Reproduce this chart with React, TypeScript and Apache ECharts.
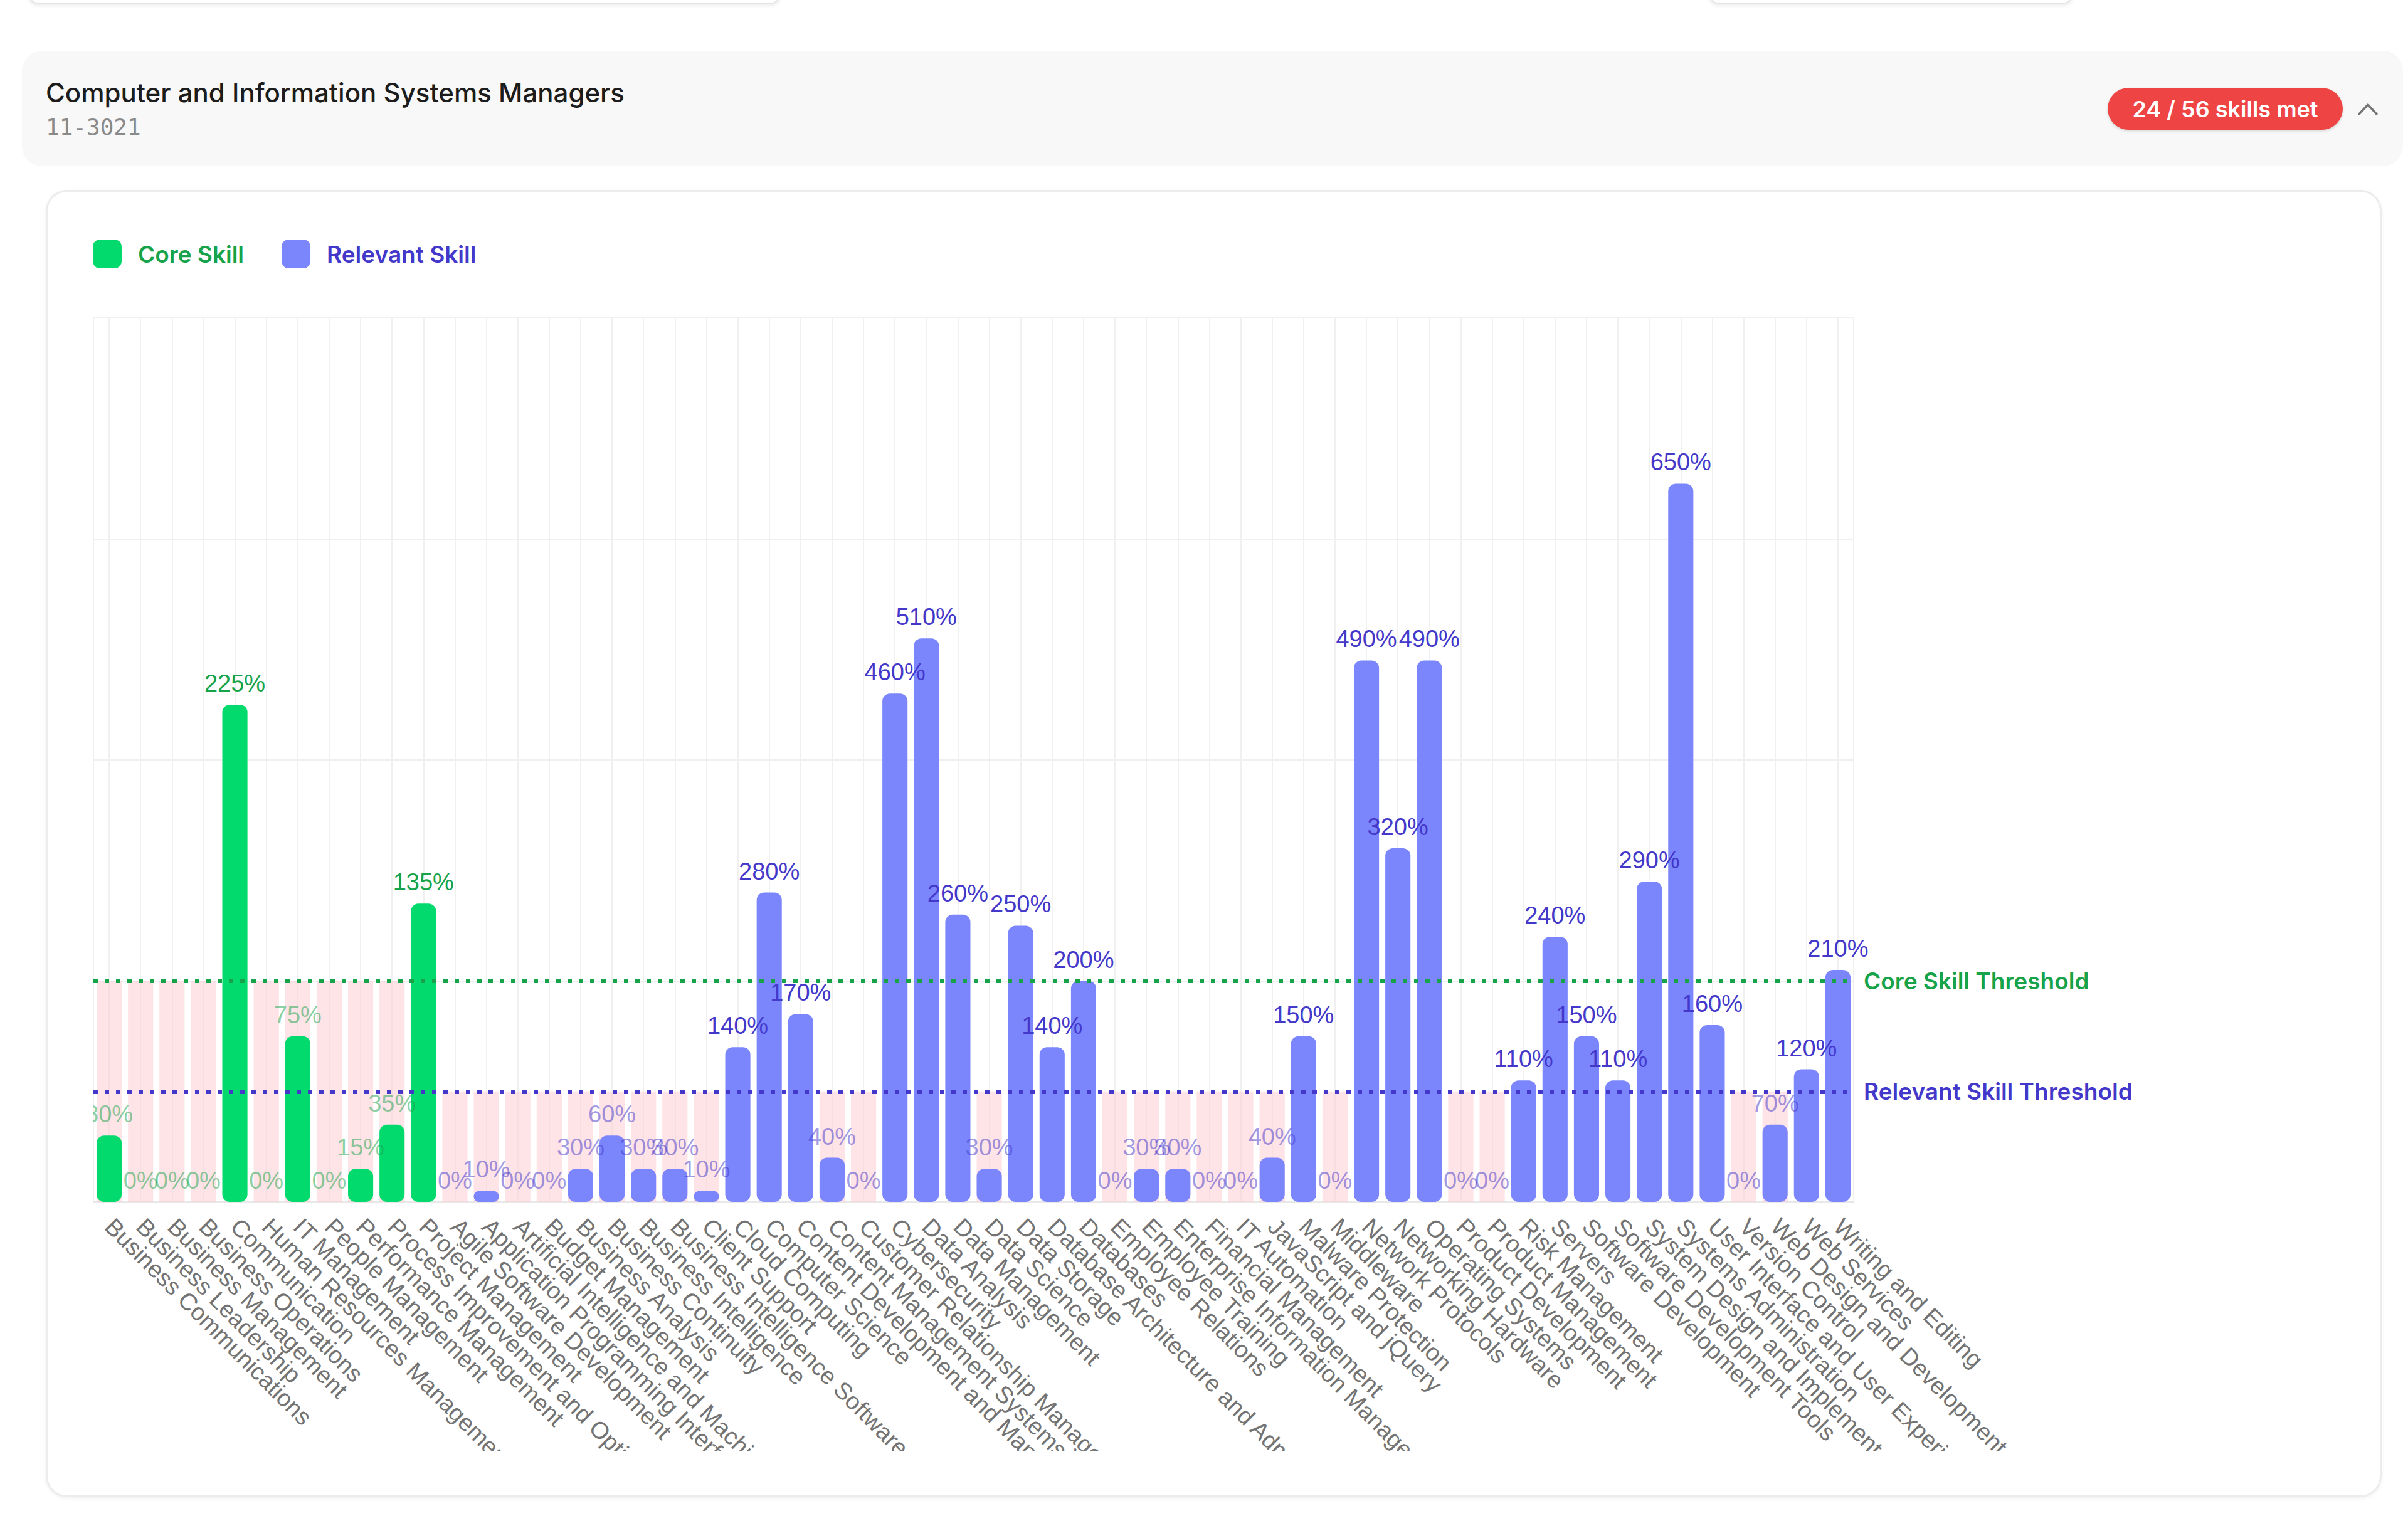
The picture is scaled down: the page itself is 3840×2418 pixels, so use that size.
import React, { useEffect, useRef } from "react";
import * as echarts from "echarts";

// ---------- data ----------
const CORE_SKILLS = [
  "Business Communications",
  "Business Leadership",
  "Business Management",
  "Business Operations",
  "Communication",
  "Human Resources Management",
  "IT Management",
  "People Management",
  "Performance Management",
  "Process Improvement and Optimization",
  "Project Management",
];
const CORE_PCT = [30, 0, 0, 0, 225, 0, 75, 0, 15, 35, 135];

const RELEVANT_SKILLS = [
  "Agile Software Development",
  "Application Programming Interfaces",
  "Artificial Intelligence and Machine Learning",
  "Budget Management",
  "Business Analysis",
  "Business Continuity",
  "Business Intelligence",
  "Business Intelligence Software",
  "Client Support",
  "Cloud Computing",
  "Computer Science",
  "Content Development and Management",
  "Content Management Systems",
  "Customer Relationship Management",
  "Cybersecurity",
  "Data Analysis",
  "Data Management",
  "Data Science",
  "Data Storage",
  "Database Architecture and Administration",
  "Databases",
  "Employee Relations",
  "Employee Training",
  "Enterprise Information Management",
  "Financial Management",
  "IT Automation",
  "JavaScript and jQuery",
  "Malware Protection",
  "Middleware",
  "Network Protocols",
  "Networking Hardware",
  "Operating Systems",
  "Product Development",
  "Product Management",
  "Risk Management",
  "Servers",
  "Software Development",
  "Software Development Tools",
  "System Design and Implementation",
  "Systems Administration",
  "User Interface and User Experience",
  "Version Control",
  "Web Design and Development",
  "Web Services",
  "Writing and Editing",
];
const RELEVANT_PCT = [
  0, 10, 0, 0, 30, 60, 30, 30, 10, 140, 280, 170, 40, 0, 460, 510, 260, 30, 250,
  140, 200, 0, 30, 30, 0, 0, 40, 150, 0, 490, 320, 490, 0, 0, 110, 240, 150, 110,
  290, 650, 160, 0, 70, 120, 210,
];

// score scale: core threshold is twice the relevant threshold
const CORE_THRESHOLD = 2;
const RELEVANT_THRESHOLD = 1;
const Y_MIN = 0;
const Y_MAX = 8;
const Y_INTERVAL = 2;

const TITLE = "Computer and Information Systems Managers";
const CODE = "11-3021";
const LEGEND_NAMES = ["Core Skill", "Relevant Skill"];
const THRESHOLD_NAMES = ["Core Skill Threshold", "Relevant Skill Threshold"];

// ---------- styles ----------
const GREEN_BAR = "#03da6d";
const BLUE_BAR = "#7b86fd";
const GREEN_TEXT = "#16a34a";
const BLUE_TEXT = "#4338ca";
const GREEN_FADED = "rgba(22,163,74,0.5)";
const BLUE_FADED = "rgba(67,56,202,0.5)";
const GAP_PINK = "rgba(253,200,208,0.5)";
const GRID_LINE = "#f0f0f0";

function Chart() {
  const ref = useRef<HTMLDivElement>(null);

  useEffect(() => {
    if (!ref.current) return;
    const chart = echarts.init(ref.current, null, { renderer: "svg" });

    const categories = [...CORE_SKILLS, ...RELEVANT_SKILLS];
    const nCore = CORE_SKILLS.length;
    const allPct = [...CORE_PCT, ...RELEVANT_PCT];

    const gapData = categories.map((_, i) => {
      const isCore = i < nCore;
      const pct = allPct[i];
      if (pct >= 100) return "-";
      return isCore ? CORE_THRESHOLD : RELEVANT_THRESHOLD;
    });

    const coreData = categories.map((_, i) => {
      if (i >= nCore) return "-";
      const pct = CORE_PCT[i];
      return {
        value: (pct / 100) * CORE_THRESHOLD,
        label: { color: pct >= 100 ? GREEN_TEXT : GREEN_FADED },
      };
    });

    const relevantData = categories.map((_, i) => {
      if (i < nCore) return "-";
      const pct = RELEVANT_PCT[i - nCore];
      return {
        value: (pct / 100) * RELEVANT_THRESHOLD,
        label: { color: pct >= 100 ? BLUE_TEXT : BLUE_FADED },
      };
    });

    const valueLabel = {
      show: true,
      position: "top",
      distance: 15,
      fontSize: 38,
      fontFamily: "Liberation Sans",
      formatter: (p: any) => allPct[p.dataIndex] + "%",
    };

    const thresholdLabel = {
      show: true,
      position: "end",
      distance: 16,
      fontFamily: "Inter",
      fontSize: 37,
      fontWeight: 600,
      formatter: "{b}",
    };

    chart.setOption({
      animation: false,
      backgroundColor: "transparent",
      legend: {
        left: 0,
        top: 22,
        padding: 0,
        icon: "roundRect",
        itemWidth: 46,
        itemHeight: 46,
        itemGap: 60,
        selectedMode: false,
        textStyle: {
          fontFamily: "Inter",
          fontSize: 37,
          fontWeight: 600,
          padding: [0, 0, 0, 21],
        },
        data: [
          { name: LEGEND_NAMES[0], textStyle: { color: GREEN_TEXT } },
          { name: LEGEND_NAMES[1], textStyle: { color: BLUE_TEXT } },
        ],
      },
      grid: {
        left: 1,
        right: 794,
        top: 147,
        bottom: 397,
        outerBoundsMode: "none",
        containLabel: false,
        show: true,
        borderColor: GRID_LINE,
        borderWidth: 2,
      },
      xAxis: {
        type: "category",
        data: categories,
        axisLine: { show: true, lineStyle: { color: "#e8e8e8", width: 3 } },
        axisTick: { show: false },
        splitLine: {
          show: true,
          alignWithLabel: true,
          lineStyle: { color: GRID_LINE, width: 2 },
        },
        axisLabel: {
          interval: 0,
          rotate: -45,
          margin: 33,
          fontSize: 38,
          color: "#737373",
          fontFamily: "Liberation Sans",
          hideOverlap: false,
        },
      },
      yAxis: {
        type: "value",
        min: Y_MIN,
        max: Y_MAX,
        interval: Y_INTERVAL,
        axisLabel: { show: false },
        axisLine: { show: false },
        axisTick: { show: false },
        splitLine: { show: true, lineStyle: { color: GRID_LINE, width: 2 } },
      },
      series: [
        {
          name: "Gap",
          type: "bar",
          data: gapData,
          barGap: "-100%",
          barCategoryGap: "20%",
          itemStyle: { color: GAP_PINK },
          silent: true,
          z: 1,
        },
        {
          name: LEGEND_NAMES[0],
          type: "bar",
          data: coreData,
          barGap: "-100%",
          barCategoryGap: "20%",
          itemStyle: { color: GREEN_BAR, borderRadius: 12 },
          label: valueLabel,
          z: 2,
        },
        {
          name: LEGEND_NAMES[1],
          type: "bar",
          data: relevantData,
          barGap: "-100%",
          barCategoryGap: "20%",
          itemStyle: { color: BLUE_BAR, borderRadius: 12 },
          label: valueLabel,
          z: 2,
          markLine: {
            silent: true,
            symbol: "none",
            label: thresholdLabel,
            data: [
              {
                name: THRESHOLD_NAMES[0],
                yAxis: CORE_THRESHOLD,
                lineStyle: { color: GREEN_TEXT, type: [7, 11], width: 7, cap: "butt" },
                label: { color: GREEN_TEXT },
              },
              {
                name: THRESHOLD_NAMES[1],
                yAxis: RELEVANT_THRESHOLD,
                lineStyle: { color: BLUE_TEXT, type: [7, 11], width: 7, cap: "butt" },
                label: { color: BLUE_TEXT },
              },
            ],
          },
        },
      ],
    });

    return () => {
      chart.dispose();
    };
  }, []);

  return (
    <div
      ref={ref}
      style={{
        position: "absolute",
        left: 148,
        top: 360,
        width: 3602,
        height: 1954,
        overflow: "hidden",
      }}
    />
  );
}

export default function App() {
  return (
    <div
      style={{
        position: "absolute",
        left: 0,
        top: 0,
        width: 3840,
        height: 2418,
        background: "#ffffff",
        overflow: "hidden",
        fontFamily: "Inter, 'Noto Sans', sans-serif",
      }}
    >
      {/* remnants of cards above */}
      <div
        style={{
          position: "absolute",
          left: 46,
          top: -60,
          width: 1194,
          height: 62,
          border: "2px solid #e4e4e4",
          borderRadius: 14,
          boxShadow: "0 3px 6px rgba(0,0,0,0.08)",
          background: "#fff",
        }}
      />
      <div
        style={{
          position: "absolute",
          left: 2726,
          top: -60,
          width: 575,
          height: 62,
          border: "2px solid #e4e4e4",
          borderRadius: 14,
          boxShadow: "0 3px 6px rgba(0,0,0,0.08)",
          background: "#fff",
        }}
      />

      {/* header panel */}
      <div
        style={{
          position: "absolute",
          left: 35,
          top: 81,
          width: 3797,
          height: 184,
          background: "#f8f8f8",
          borderRadius: 32,
        }}
      />
      <div
        style={{
          position: "absolute",
          left: 73,
          top: 127,
          fontSize: 42,
          lineHeight: "42px",
          fontWeight: 500,
          color: "#1c1c1c",
          whiteSpace: "nowrap",
          fontFamily: "Inter",
        }}
      >
        {TITLE}
      </div>
      <div
        style={{
          position: "absolute",
          left: 73,
          top: 185,
          fontSize: 36,
          lineHeight: "36px",
          color: "#8a8a8a",
          whiteSpace: "nowrap",
          fontFamily: "'DejaVu Sans Mono', monospace",
        }}
      >
        {CODE}
      </div>
      <div
        style={{
          position: "absolute",
          left: 3361,
          top: 140,
          width: 375,
          height: 67,
          borderRadius: 34,
          background: "#ef4444",
          color: "#ffffff",
          fontFamily: "Inter",
          fontWeight: 600,
          fontSize: 36,
          display: "flex",
          alignItems: "center",
          justifyContent: "center",
          boxShadow: "0 2px 4px rgba(0,0,0,0.15)",
          whiteSpace: "nowrap",
        }}
      >
        24 / 56 skills met
      </div>
      <svg
        style={{ position: "absolute", left: 3757, top: 160 }}
        width={40}
        height={28}
      >
        <polyline
          points="5,22 19,7 33,22"
          fill="none"
          stroke="#777"
          strokeWidth={3.5}
          strokeLinecap="round"
          strokeLinejoin="round"
        />
      </svg>

      {/* chart card */}
      <div
        style={{
          position: "absolute",
          left: 73,
          top: 303,
          width: 3725,
          height: 2085,
          background: "#ffffff",
          border: "3px solid #ececec",
          borderRadius: 34,
          boxShadow: "0 2px 6px rgba(0,0,0,0.06)",
          boxSizing: "border-box",
        }}
      />
      <Chart />
    </div>
  );
}
